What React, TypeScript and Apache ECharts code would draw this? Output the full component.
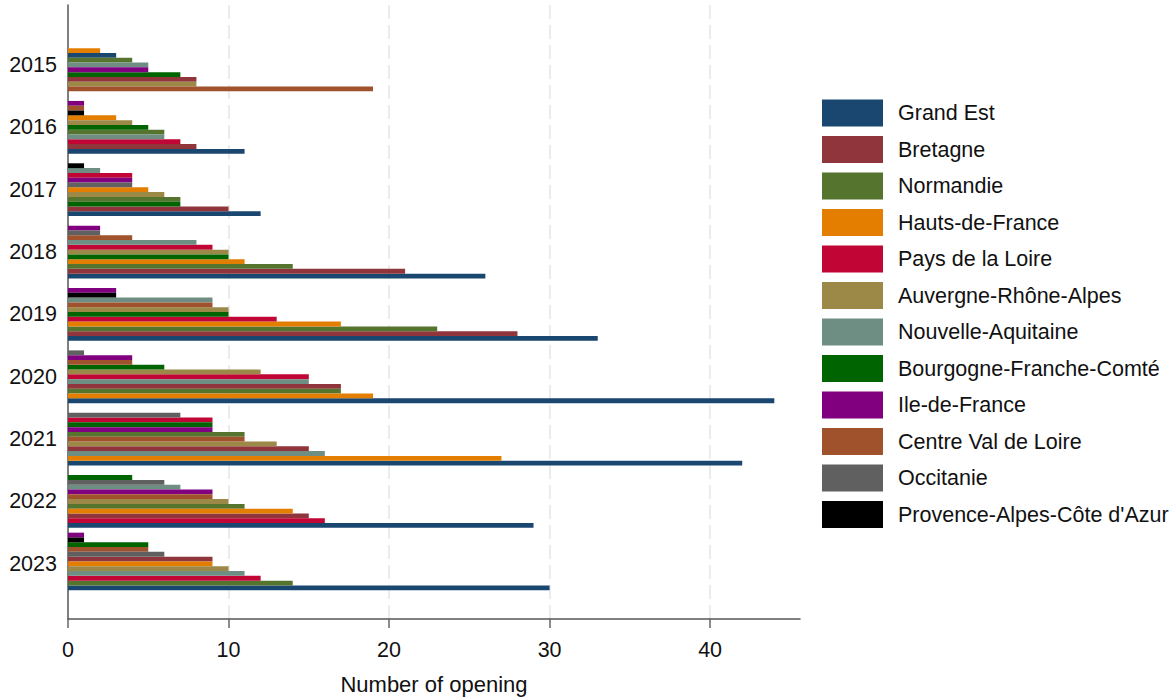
import React, { useEffect, useRef } from "react";
import * as echarts from "echarts";

const years = ["2015", "2016", "2017", "2018", "2019", "2020", "2021", "2022", "2023"];
const regions = [
  "Grand Est",
  "Bretagne",
  "Normandie",
  "Hauts-de-France",
  "Pays de la Loire",
  "Auvergne-Rhône-Alpes",
  "Nouvelle-Aquitaine",
  "Bourgogne-Franche-Comté",
  "Ile-de-France",
  "Centre Val de Loire",
  "Occitanie",
  "Provence-Alpes-Côte d'Azur",
];
const regionColors = [
  "#1a476f", "#90353b", "#55752f", "#e37e00", "#c10534", "#9c8847",
  "#6e8e84", "#006400", "#800080", "#a0522d", "#606060", "#000000",
];

// openings per year (2015..2023)
const grandEst = [3, 11, 12, 26, 33, 44, 42, 29, 30];
const bretagne = [8, 8, 10, 21, 28, 17, 15, 15, 9];
const normandie = [4, 6, 7, 14, 23, 17, 11, 11, 14];
const hautsDeFrance = [2, 3, 5, 11, 17, 19, 27, 14, 9];
const paysDeLaLoire = [0, 7, 4, 9, 13, 15, 9, 16, 12];
const auvergneRA = [8, 4, 6, 10, 10, 12, 13, 10, 10];
const nouvelleAquitaine = [5, 6, 2, 8, 9, 15, 16, 7, 11];
const bourgogneFC = [7, 5, 7, 10, 10, 6, 9, 4, 5];
const ileDeFrance = [5, 1, 4, 2, 3, 4, 9, 9, 1];
const centreVdL = [19, 1, 0, 4, 9, 4, 11, 9, 5];
const occitanie = [0, 0, 4, 2, 0, 1, 7, 6, 6];
const paca = [0, 1, 1, 0, 3, 0, 0, 0, 1];

const xTicks = [0, 10, 20, 30, 40];
const xTitle = "Number of opening";

const seriesValues = [
  grandEst, bretagne, normandie, hautsDeFrance, paysDeLaLoire, auvergneRA,
  nouvelleAquitaine, bourgogneFC, ileDeFrance, centreVdL, occitanie, paca,
];

// slot layout on the category axis (one category per bar slot)
const PAD = 6;
const PER_GROUP = regions.length; // 12
const GAP = 1;
const PERIOD = PER_GROUP + GAP;
const TOTAL = PAD * 2 + years.length * PER_GROUP + (years.length - 1) * GAP;

function buildOption() {
  const cats: string[] = [];
  const labelIdx: Record<number, string> = {};
  for (let i = 0; i < TOTAL; i++) cats.push("s" + i);
  years.forEach((y, yi) => {
    labelIdx[PAD + yi * PERIOD + PER_GROUP / 2] = y;
  });

  const dataByRegion: any[][] = regions.map(() => new Array(TOTAL).fill("-"));
  years.forEach((_, yi) => {
    const order = regions
      .map((_, ri) => ri)
      .sort((a, b) => {
        const d = seriesValues[a][yi] - seriesValues[b][yi];
        return d !== 0 ? d : a - b;
      });
    order.forEach((ri, k) => {
      const v = seriesValues[ri][yi];
      if (v > 0) dataByRegion[ri][PAD + yi * PERIOD + k] = v;
    });
  });

  const font = "'Liberation Sans', Arial, sans-serif";
  return {
    animation: false,
    textStyle: { fontFamily: font },
    grid: { left: 68, right: 376, top: 5, bottom: 80, containLabel: false },
    legend: {
      orient: "vertical",
      left: 817,
      top: 94.5,
      icon: "rect",
      itemWidth: 61,
      itemHeight: 27,
      itemGap: 9.5,
      selectedMode: false,
      textStyle: { fontFamily: font, fontSize: 21.5, color: "#111", padding: [0, 0, 0, 10] },
      data: regions,
    },
    xAxis: {
      type: "value",
      min: 0,
      max: 45.6,
      interval: 10,
      name: xTitle,
      nameLocation: "middle",
      nameGap: 54,
      nameTextStyle: { fontFamily: font, fontSize: 22, color: "#111" },
      axisLine: { show: true, lineStyle: { color: "#555", width: 1.5 } },
      axisTick: {
        show: true,
        length: 9,
        customValues: xTicks,
        lineStyle: { color: "#666", width: 1.5 },
      },
      axisLabel: {
        customValues: xTicks,
        margin: 20,
        fontFamily: font,
        fontSize: 21.5,
        color: "#111",
      },
      splitLine: {
        show: true,
        showMinLine: false,
        lineStyle: { color: "#e6e6e6", width: 1.5, type: [14, 6] },
      },
    },
    yAxis: {
      type: "category",
      inverse: true,
      data: cats,
      axisLine: { show: true, lineStyle: { color: "#555", width: 1.5 } },
      axisTick: { show: false },
      splitLine: { show: false },
      axisLabel: {
        interval: (index: number) => labelIdx[index] !== undefined,
        formatter: (_v: string, index: number) => labelIdx[index] || "",
        fontFamily: font,
        fontSize: 21.5,
        color: "#111",
        margin: 11,
        padding: [0, 0, 4, 0],
      },
    },
    series: regions.map((name, ri) => ({
      name,
      type: "bar",
      stack: "all",
      barCategoryGap: "0%",
      itemStyle: { color: regionColors[ri] },
      data: dataByRegion[ri],
    })),
  };
}

export default function App() {
  const ref = useRef<HTMLDivElement>(null);
  useEffect(() => {
    if (!ref.current) return;
    const chart = echarts.init(ref.current, undefined, { renderer: "svg" });
    chart.setOption(buildOption() as any);
    return () => chart.dispose();
  }, []);
  return (
    <div
      ref={ref}
      style={{ position: "absolute", left: 0, top: 0, width: 1176, height: 700, background: "#fff" }}
    />
  );
}
